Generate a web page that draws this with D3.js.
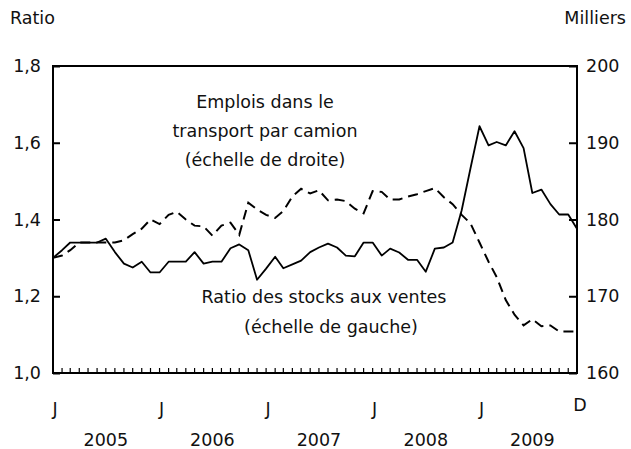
<!DOCTYPE html>
<html>
<head>
<meta charset="utf-8">
<script src="https://cdn.jsdelivr.net/npm/d3@7"></script>
<style>
  body { margin: 0; background: #fff; }
  text { font-family: "DejaVu Sans", sans-serif; fill: #111; }
</style>
</head>
<body>
<script>
// monthly, Jan 2005 - Dec 2009
var startMonth = new Date(2005, 0, 1),
    endMonth = new Date(2010, 0, 1);

// inventory to sales ratio (left scale)
var ratio = [1.30, 1.32, 1.34, 1.34, 1.34, 1.34, 1.35, 1.315, 1.285, 1.275, 1.29, 1.262, 1.262, 1.29, 1.29,
    1.29, 1.315, 1.285, 1.29, 1.29, 1.325, 1.335, 1.32, 1.243, 1.272, 1.303, 1.273, 1.283, 1.293, 1.315,
    1.327, 1.337, 1.327, 1.306, 1.304, 1.34, 1.34, 1.306, 1.324, 1.314, 1.295, 1.295, 1.264, 1.324, 1.327,
    1.34, 1.424, 1.533, 1.643, 1.593, 1.602, 1.593, 1.63, 1.586, 1.469, 1.478, 1.44, 1.413, 1.413, 1.376];

// truck transportation jobs, thousands (right scale)
var jobs = [175.0, 175.3, 176.0, 177.0, 177.0, 177.0, 177.0, 177.0, 177.3, 178.1, 178.8, 180.0, 179.4, 180.6, 181.0,
    180.0, 179.2, 179.1, 177.9, 179.2, 179.6, 178.0, 182.2, 181.3, 180.6, 180.2, 181.1, 183.0, 184.0, 183.4,
    183.8, 182.5, 182.6, 182.4, 181.4, 180.8, 183.7, 183.6, 182.6, 182.6, 183.0, 183.3, 183.7, 184.1, 182.9,
    182.0, 180.6, 179.5, 177.0, 174.5, 172.5, 169.5, 167.6, 166.2, 167.0, 166.1, 166.2, 165.4, 165.4, 165.4];

var leftTicks = [1.0, 1.2, 1.4, 1.6, 1.8];
var rightTicks = [160, 170, 180, 190, 200];
var years = [2005, 2006, 2007, 2008, 2009];

var margin = { top: 66, right: 54, bottom: 76, left: 53 };
var W = 631, H = 449;
var width = W - margin.left - margin.right,
    height = H - margin.top - margin.bottom;

var fs = "17.5px";

var months = d3.timeMonth.range(startMonth, endMonth);

var x = d3.scaleTime()
    .domain([months[0], months[months.length - 1]])
    .range([0, width]);

var yL = d3.scaleLinear().domain([1.0, 1.8]).range([height, 0]);
var yR = d3.scaleLinear().domain([160, 200]).range([height, 0]);

var fmtComma = function(d) { return d3.format(".1f")(d).replace(".", ","); };

var svg = d3.select("body").append("svg")
    .attr("width", W)
    .attr("height", H)
    .append("g")
    .attr("transform", "translate(" + margin.left + "," + margin.top + ")");

// axis titles
svg.append("text").attr("x", -43).attr("y", -42).style("font-size", fs).text("Ratio");
svg.append("text").attr("x", width + 49).attr("y", -42).style("font-size", fs)
    .style("text-anchor", "end").text("Milliers");

// left ticks (inward) + labels
var leftAxis = d3.axisRight(yL).tickValues(leftTicks).tickSize(7).tickFormat("");
svg.append("g").call(leftAxis).call(function(g) { g.select(".domain").remove(); });
svg.append("g").selectAll("text").data(leftTicks).enter().append("text")
    .attr("x", -12).attr("y", function(d) { return yL(d); }).attr("dy", "0.35em")
    .style("text-anchor", "end").style("font-size", fs)
    .text(fmtComma);

// right ticks (inward) + labels
var rightAxis = d3.axisLeft(yR).tickValues(rightTicks).tickSize(8).tickFormat("");
svg.append("g").attr("transform", "translate(" + width + ",0)").call(rightAxis)
    .call(function(g) { g.select(".domain").remove(); });
svg.append("g").selectAll("text").data(rightTicks).enter().append("text")
    .attr("x", width + 9).attr("y", function(d) { return yR(d); }).attr("dy", "0.35em")
    .style("font-size", fs)
    .text(function(d) { return d; });

svg.selectAll(".tick line").attr("stroke", "#000").attr("stroke-width", 2);

// monthly ticks along bottom
svg.append("g").selectAll("line").data(months).enter().append("line")
    .attr("x1", function(d) { return x(d); }).attr("x2", function(d) { return x(d); })
    .attr("y1", height).attr("y2", height - 5)
    .attr("stroke", "#000").attr("stroke-width", 1.2);

// frame
svg.append("rect").attr("width", width).attr("height", height)
    .attr("fill", "none").attr("stroke", "#000").attr("stroke-width", 2);

// month letters
var jMonths = years.map(function(y) { return new Date(y, 0, 1); });
svg.append("g").selectAll("text").data(jMonths).enter().append("text")
    .attr("x", function(d) { return x(d) + 2; }).attr("y", height + 42)
    .style("text-anchor", "middle").style("font-size", fs)
    .text("J");
svg.append("text").attr("x", x(months[months.length - 1]) + 3).attr("y", height + 38)
    .style("text-anchor", "middle").style("font-size", fs).text("D");

// years
svg.append("g").selectAll("text").data(years).enter().append("text")
    .attr("x", function(d) { return x(new Date(d, 6, 1)); }).attr("y", height + 73)
    .style("text-anchor", "middle").style("font-size", fs)
    .text(function(d) { return d; });

// lines
var lineL = d3.line()
    .x(function(d, i) { return x(months[i]); })
    .y(function(d) { return yL(d); });
var lineR = d3.line()
    .x(function(d, i) { return x(months[i]); })
    .y(function(d) { return yR(d); });

svg.append("path").datum(jobs).attr("d", lineR)
    .attr("fill", "none").attr("stroke", "#000").attr("stroke-width", 2)
    .attr("stroke-dasharray", "10,6");

svg.append("path").datum(ratio).attr("d", lineL)
    .attr("fill", "none").attr("stroke", "#000").attr("stroke-width", 1.8)
    .attr("stroke-linejoin", "round");

// annotations
var note1 = ["Emplois dans le", "transport par camion", "(échelle de droite)"];
svg.append("g").selectAll("text").data(note1).enter().append("text")
    .attr("x", 212).attr("y", function(d, i) { return 42 + i * 29; })
    .style("text-anchor", "middle").style("font-size", fs)
    .text(function(d) { return d; });

var note2 = ["Ratio des stocks aux ventes", "(échelle de gauche)"];
svg.append("g").selectAll("text").data(note2).enter().append("text")
    .attr("x", function(d, i) { return i ? 278 : 271; })
    .attr("y", function(d, i) { return 237 + i * 30; })
    .style("text-anchor", "middle").style("font-size", fs)
    .text(function(d) { return d; });
</script>
</body>
</html>
